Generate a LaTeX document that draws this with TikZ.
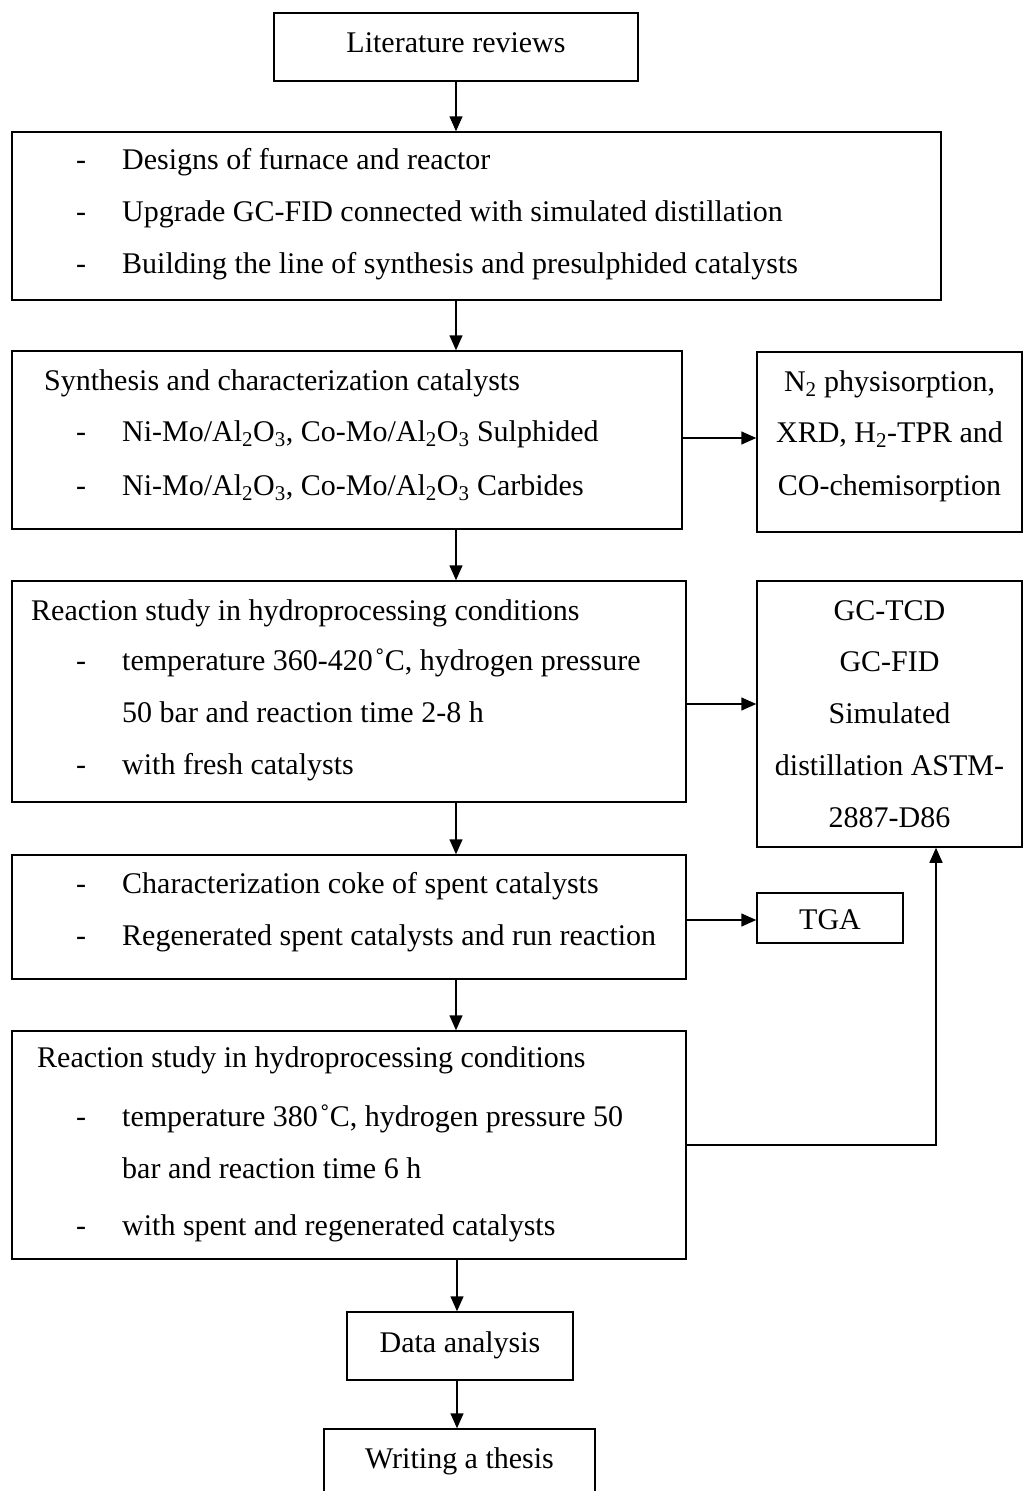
\documentclass[tikz,border=0pt]{standalone}
\usepackage{fontspec}
\setmainfont{Liberation Serif}
\usetikzlibrary{arrows.meta}
\begin{document}
\begin{tikzpicture}[x=1pt,y=-1pt,
  box/.style={draw,line width=1.5pt,inner sep=0pt},
  txt/.style={anchor=base west,inner sep=0pt,font=\fontsize{30}{36}\selectfont},
  ctxt/.style={anchor=base,inner sep=0pt,font=\fontsize{30}{36}\selectfont},
  arr/.style={line width=1.5pt,-{Triangle[length=15pt,width=13pt]}}]
\useasboundingbox (0,0) rectangle (1023,1491);

% boxes
\node[box,minimum width=364pt,minimum height=68pt] (lit) at (456,47) {};
\node[box,minimum width=929pt,minimum height=168pt] (b2) at (476.5,216) {};
\node[box,minimum width=670pt,minimum height=178pt] (b3) at (347,440) {};
\node[box,minimum width=265pt,minimum height=180pt] (r3) at (889.5,442) {};
\node[box,minimum width=674pt,minimum height=221pt] (b4) at (349,691.5) {};
\node[box,minimum width=265pt,minimum height=266pt] (r4) at (889.5,714) {};
\node[box,minimum width=674pt,minimum height=124pt] (b5) at (349,917) {};
\node[box,minimum width=146pt,minimum height=50pt] (tga) at (830,918) {};
\node[box,minimum width=674pt,minimum height=228pt] (b6) at (349,1145) {};
\node[box,minimum width=226pt,minimum height=68pt] (data) at (460,1346) {};
\node[box,minimum width=271pt,minimum height=91pt] (write) at (459.5,1474.5) {};

% texts
\node[ctxt] (tlit) at (456,52) {Literature reviews};

\node[txt] (d21) at (76,169) {-};
\node[txt] (t21) at (122,169) {Designs of furnace and reactor};
\node[txt] (d22) at (76,221) {-};
\node[txt] (t22) at (122,221) {Upgrade GC-FID connected with simulated distillation};
\node[txt] (d23) at (76,273) {-};
\node[txt] (t23) at (122,273) {Building the line of synthesis and presulphided catalysts};

\node[txt] (t31) at (44,390) {Synthesis and characterization catalysts};
\node[txt] (d32) at (76,441) {-};
\node[txt] (t32) at (122,441) {Ni-Mo/Al\textsubscript{2}O\textsubscript{3}, Co-Mo/Al\textsubscript{2}O\textsubscript{3} Sulphided};
\node[txt] (d33) at (76,495) {-};
\node[txt] (t33) at (122,495) {Ni-Mo/Al\textsubscript{2}O\textsubscript{3}, Co-Mo/Al\textsubscript{2}O\textsubscript{3} Carbides};

\node[ctxt] (r31) at (889.5,391) {N\textsubscript{2} physisorption,};
\node[ctxt] (r32) at (889.5,442) {XRD, H\textsubscript{2}-TPR and};
\node[ctxt] (r33) at (889.5,495) {CO-chemisorption};

\node[txt] (t41) at (31,620) {Reaction study in hydroprocessing conditions};
\node[txt] (d42) at (76,670) {-};
\node[txt] (t42) at (122,670) {temperature 360-420\kern2pt˚C, hydrogen pressure};
\node[txt] (t43) at (122,722) {50 bar and reaction time 2-8 h};
\node[txt] (d44) at (76,774) {-};
\node[txt] (t44) at (122,774) {with fresh catalysts};

\node[ctxt] (r41) at (889.5,620) {GC-TCD};
\node[ctxt] (r42) at (889.5,671) {GC-FID};
\node[ctxt] (r43) at (889.5,723) {Simulated};
\node[ctxt] (r44) at (889.5,775) {distillation ASTM-};
\node[ctxt] (r45) at (889.5,827) {2887-D86};

\node[txt] (d51) at (76,893) {-};
\node[txt] (t51) at (122,893) {Characterization coke of spent catalysts};
\node[txt] (d52) at (76,945) {-};
\node[txt] (t52) at (122,945) {Regenerated spent catalysts and run reaction};

\node[ctxt] (ttga) at (830,929) {TGA};

\node[txt] (t61) at (37,1067) {Reaction study in hydroprocessing conditions};
\node[txt] (d62) at (76,1126) {-};
\node[txt] (t62) at (122,1126) {temperature 380\kern2pt˚C, hydrogen pressure 50};
\node[txt] (t63) at (122,1178) {bar and reaction time 6 h};
\node[txt] (d64) at (76,1235) {-};
\node[txt] (t64) at (122,1235) {with spent and regenerated catalysts};

\node[ctxt] (tdata) at (460,1352) {Data analysis};
\node[ctxt] (twrite) at (459.5,1468) {Writing a thesis};

% connectors
\draw[arr] (lit.south) -- (lit.south |- b2.north);
\draw[arr] (b2.south -| lit.south) -- (b3.north -| lit.south);
\draw[arr] (b3.south -| lit.south) -- (b4.north -| lit.south);
\draw[arr] (b4.south -| lit.south) -- (b5.north -| lit.south);
\draw[arr] (b5.south -| lit.south) -- (b6.north -| lit.south);
\draw[arr] ([xshift=1pt]b6.south -| lit.south) -- ([xshift=1pt]data.north -| lit.south);
\draw[arr] ([xshift=1pt]data.south -| lit.south) -- ([xshift=1pt]write.north -| lit.south);
\draw[arr] ([yshift=2pt]b3.east) -- ([yshift=2pt]b3.east -| r3.west);
\draw[arr] ([yshift=-12.5pt]b4.east) -- ([yshift=-12.5pt]b4.east -| r4.west);
\draw[arr] ([yshift=-3pt]b5.east) -- ([yshift=-3pt]b5.east -| tga.west);
\draw[arr] (b6.east) -| ([xshift=46.5pt]r4.south);
\end{tikzpicture}
\end{document}
